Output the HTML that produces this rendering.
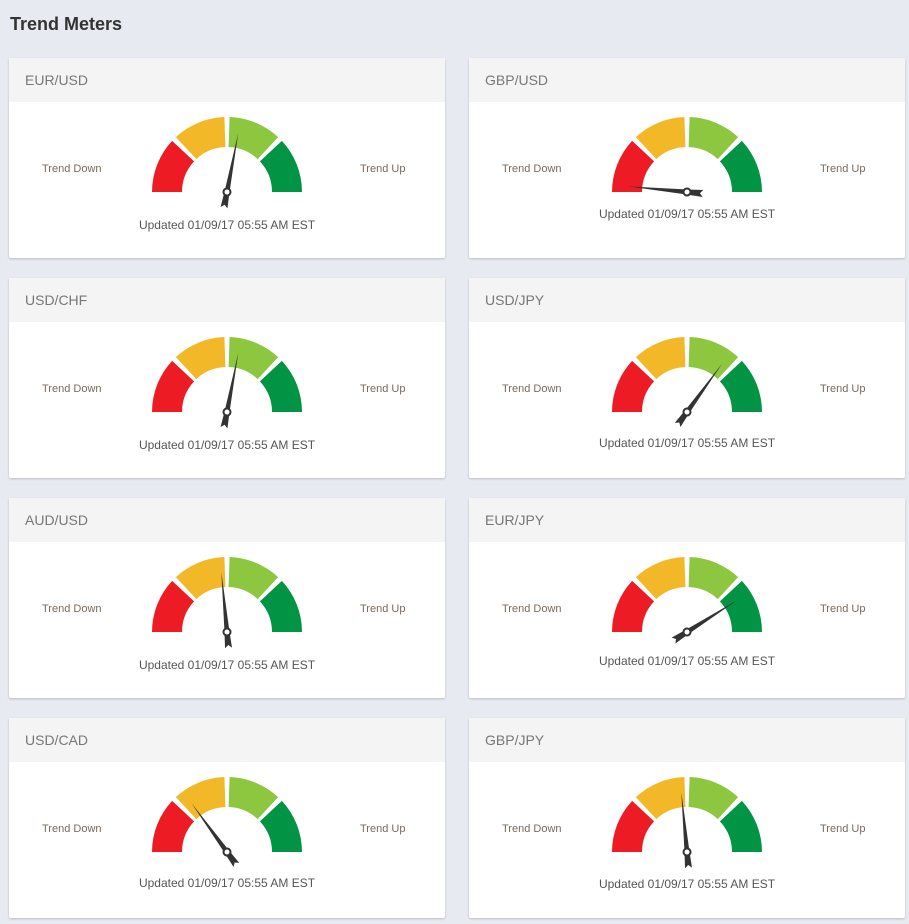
<!DOCTYPE html>
<html><head><meta charset="utf-8">
<style>
body{margin:0;width:909px;height:924px;background:#e8eaf1;font-family:"Liberation Sans",sans-serif;position:relative;overflow:hidden}
h1{position:absolute;left:10px;top:14px;margin:0;font-size:18px;font-weight:bold;color:#333}
.card{position:absolute;width:436px;height:200px;background:#fff;box-shadow:0 1px 2px rgba(0,0,0,.2);border-radius:2px}
.hd{height:44px;background:#f4f4f4;color:#777;font-size:14px;line-height:44px;padding-left:16px}
.lbl{position:absolute;font-size:11px;color:#7a6a5e;top:105px}
.upd{position:absolute;left:0;width:436px;text-align:center;font-size:12px;color:#555}
svg{position:absolute;left:0;top:0}
</style></head><body>
<h1>Trend Meters</h1>
<div id="root"></div>
<script>
const pairs=["EUR/USD","GBP/USD","USD/CHF","USD/JPY","AUD/USD","EUR/JPY","USD/CAD","GBP/JPY"];
const values=[56,3,56,70,47,82,30,47];
const updatedText="Updated 01/09/17 05:55 AM EST";
const updOffsets=[167,156,167,165,167,163,165,166];
const colors=["#ed1c24","#f2b827","#8dc63f","#009444"];
const root=document.getElementById('root');
const ns="http://www.w3.org/2000/svg";
const cx=218,cy=134,R=75,r=45;
function pt(a,rad){return [cx-rad*Math.cos(a),cy-rad*Math.sin(a)];}
pairs.forEach((p,i)=>{
  const col=i%2,row=Math.floor(i/2);
  const card=document.createElement('div');
  card.className='card';
  card.style.left=(9+col*460)+'px';card.style.top=(58+row*220)+'px';
  
  
  card.innerHTML='<div class="hd">'+p+'</div>'+
   '<div class="lbl" style="left:33px">Trend Down</div>'+
   '<div class="lbl" style="left:351px">Trend Up</div>'+
   '<div class="upd" style="top:'+(updOffsets[i]-7)+'px">'+updatedText+'</div>';
  const svg=document.createElementNS(ns,'svg');
  svg.setAttribute('width','436');svg.setAttribute('height','200');
  
  
  const gap=0.035;
  colors.forEach((c,k)=>{
    const a0=k*Math.PI/4+(k?gap:0),a1=(k+1)*Math.PI/4-(k<3?gap:0);
    const o0=pt(a0,R),o1=pt(a1,R),i1=pt(a1,r),i0=pt(a0,r);
    const path=document.createElementNS(ns,'path');
    path.setAttribute('d',`M${o0[0]},${o0[1]} A${R},${R} 0 0 1 ${o1[0]},${o1[1]} L${i1[0]},${i1[1]} A${r},${r} 0 0 0 ${i0[0]},${i0[1]}Z`);
    path.setAttribute('fill',c);
    
    
    svg.appendChild(path);
  });
  const ang=180-values[i]*1.8;
  const g=document.createElementNS(ns,'g');
  g.setAttribute('transform',`translate(${cx},${cy}) rotate(${-ang})`);
  
  
  const nd=document.createElementNS(ns,'polygon');
  nd.setAttribute('points','60,0 0,2.5 -16,3.5 -13,0 -16,-3.5 0,-2.5');
  nd.setAttribute('fill','#333');
  
  
  g.appendChild(nd);
  const c=document.createElementNS(ns,'circle');
  c.setAttribute('r','3.5');c.setAttribute('fill','#fff');c.setAttribute('stroke','#333');c.setAttribute('stroke-width','2');
  
  
  g.appendChild(c);
  svg.appendChild(g);
  card.appendChild(svg);
  root.appendChild(card);
});
</script>
</body></html>
